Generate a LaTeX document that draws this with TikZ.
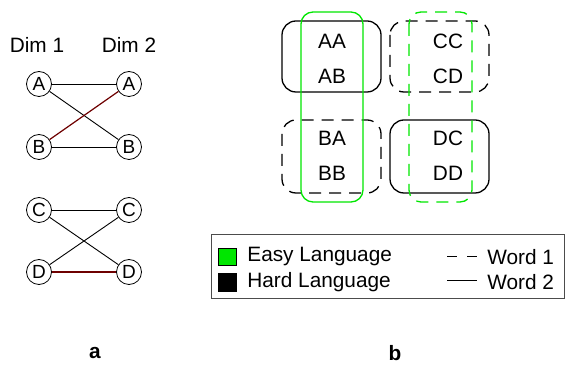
\documentclass[tikz,border=0pt]{standalone}
\usepackage{fontspec}
\setmainfont{Liberation Sans}
\definecolor{easygreen}{RGB}{0,230,0}
\definecolor{darkred}{RGB}{110,0,0}

\begin{document}
\begin{tikzpicture}[x=0.5pt, y=-0.5pt, font=\fontsize{10.4}{12}\selectfont,
  main/.style = {draw, circle, inner sep=0pt, minimum size=12.5pt, font=\fontsize{9.5}{10}\selectfont},
  edge/.style = {line width=0.45pt},
  redge/.style = {line width=0.6pt, draw=darkred},
  word1/.style = {draw, dashed, dash pattern=on 6pt off 4pt, line width=0.65pt, rounded corners=7pt},
  word2/.style = {draw, line width=0.65pt, rounded corners=7pt},
  pair/.style = {align=center, font=\fontsize{10.4}{17.5}\selectfont}]
\useasboundingbox (0,0) rectangle (566,367);
% panel a
\node (dim1) at (37,45) {Dim 1};
\node (dim2) at (129,45) {Dim 2};
\node[main] (a1) at (39,84) {A};
\node[main] (a2) [right of=a1, node distance=45pt] {A};
\node[main] (b1) [below of=a1, node distance=31.5pt] {B};
\node[main] (b2) [right of=b1, node distance=45pt] {B};
\node[main] (c1) at (39,210) {C};
\node[main] (c2) [right of=c1, node distance=45pt] {C};
\node[main] (d1) [below of=c1, node distance=31pt] {D};
\node[main] (d2) [right of=d1, node distance=45pt] {D};
\draw[edge] (a1) -- (a2);
\draw[edge] (a1) -- (b2);
\draw[redge] (b1) -- (a2);
\draw[edge] (b1) -- (b2);
\draw[edge] (c1) -- (c2);
\draw[edge] (c1) -- (d2);
\draw[edge] (d1) -- (c2);
\draw[redge] (d1) -- (d2);
% panel b
\draw[word2] (282,21) rectangle (381,92);
\draw[word1] (390,21) rectangle (489,92);
\draw[word1] (282,120) rectangle (381,193);
\draw[word2] (390,120) rectangle (489,193);
\draw[word2, draw=easygreen, rounded corners=6pt] (301,12) rectangle (363,202);
\draw[word1, draw=easygreen, rounded corners=6pt] (409,12) rectangle (472,202);
\node[pair] (aa) at (332,59) {AA\\AB};
\node[pair] (cc) at (448,59) {CC\\CD};
\node[pair] (ba) at (332,156) {BA\\BB};
\node[pair] (dc) at (448,156) {DC\\DD};
% legend
\draw[line width=0.5pt, draw=black!70] (211,235) rectangle (564,299);
\draw[fill=easygreen, line width=0.4pt] (218,248) rectangle (236,265);
\draw[fill=black, line width=0.4pt] (218,273) rectangle (236,291);
\node[anchor=west, inner sep=0pt] (easy) at (247,257) {Easy Language};
\node[anchor=west, inner sep=0pt] (hard) at (247,282) {Hard Language};
\coordinate (w1a) at (447,257);
\coordinate (w1b) at (477,257);
\coordinate (w2a) at (447,281);
\coordinate (w2b) at (477,281);
\draw[line width=0.5pt, dash pattern=on 5pt off 5pt] (w1a) -- (w1b);
\draw[line width=0.5pt] (w2a) -- (w2b);
\node[anchor=west, inner sep=0pt] (w1) at (487,257) {Word 1};
\node[anchor=west, inner sep=0pt] (w2) at (487,282) {Word 2};
% captions
\node[font=\fontsize{10.4}{12}\bfseries] (capa) at (95,353) {a};
\node[font=\fontsize{10.4}{12}\bfseries] (capb) at (395,353) {b};
\end{tikzpicture}
\end{document}
